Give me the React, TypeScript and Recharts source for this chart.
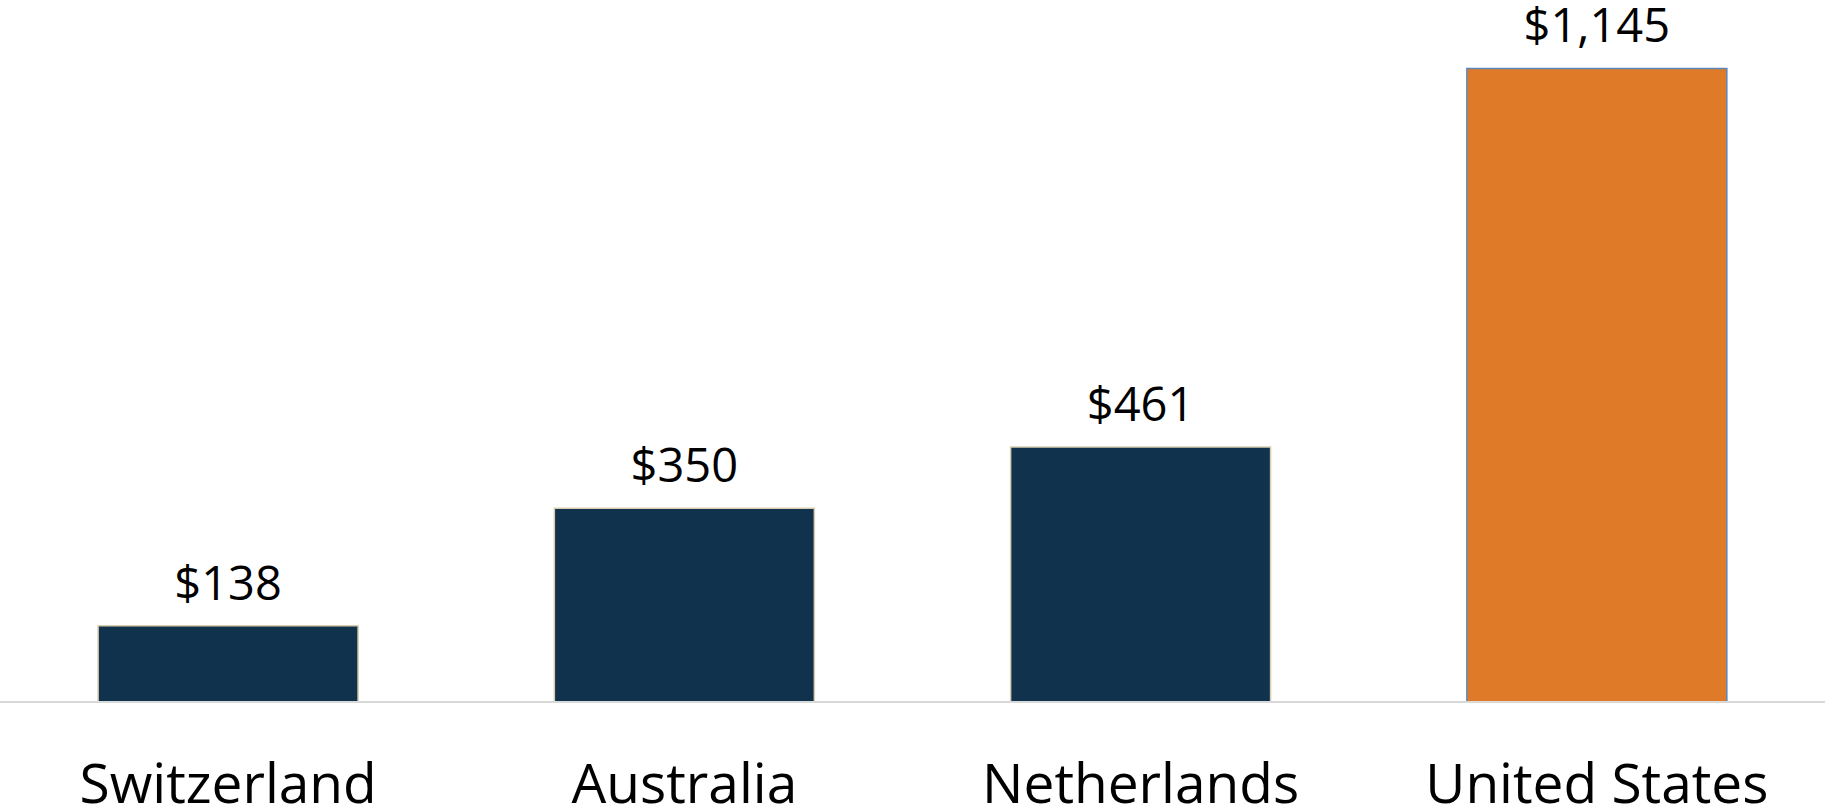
import { Bar, BarChart, Cell, LabelList, XAxis, YAxis } from 'recharts';

const countries = ['Switzerland', 'Australia', 'Netherlands', 'United States'];
const spending = [138, 350, 461, 1145];
const highlight = [false, false, false, true];

const data = countries.map((country, i) => ({ country, value: spending[i], hi: highlight[i] }));

const FONT = '"Open Sans", "Noto Sans", sans-serif';

// eslint-disable-next-line @typescript-eslint/no-explicit-any
function CountryTick(props: any) {
  const { x, y, payload } = props;
  return (
    <text x={x} y={y + 93} textAnchor="middle" fontFamily={FONT} fontSize={55} fill="#000">
      {payload.value}
    </text>
  );
}

export default function App() {
  return (
    <div style={{ position: 'absolute', left: 0, top: 0, background: '#fff' }}>
      <BarChart
        width={1825}
        height={811}
        data={data}
        margin={{ top: 38, right: 0, left: 0, bottom: 0 }}
        barCategoryGap="21.5%"
      >
        <XAxis
          dataKey="country"
          axisLine={{ stroke: '#d9d9d9', strokeWidth: 2 }}
          tickLine={false}
          tick={<CountryTick />}
          interval={0}
          height={109}
        />
        <YAxis hide domain={[0, 1200]} />
        <Bar dataKey="value" isAnimationActive={false} strokeWidth={1.5}>
          {data.map((d) => (
            <Cell
              key={d.country}
              fill={d.hi ? '#DE7A28' : '#11324D'}
              stroke={d.hi ? '#5B88BB' : '#D9CEB0'}
            />
          ))}
          <LabelList
            dataKey="value"
            position="top"
            offset={26}
            formatter={(v: number) => '$' + v.toLocaleString('en-US')}
            style={{ fontFamily: FONT, fontSize: 47, fill: '#000' }}
          />
        </Bar>
      </BarChart>
    </div>
  );
}
